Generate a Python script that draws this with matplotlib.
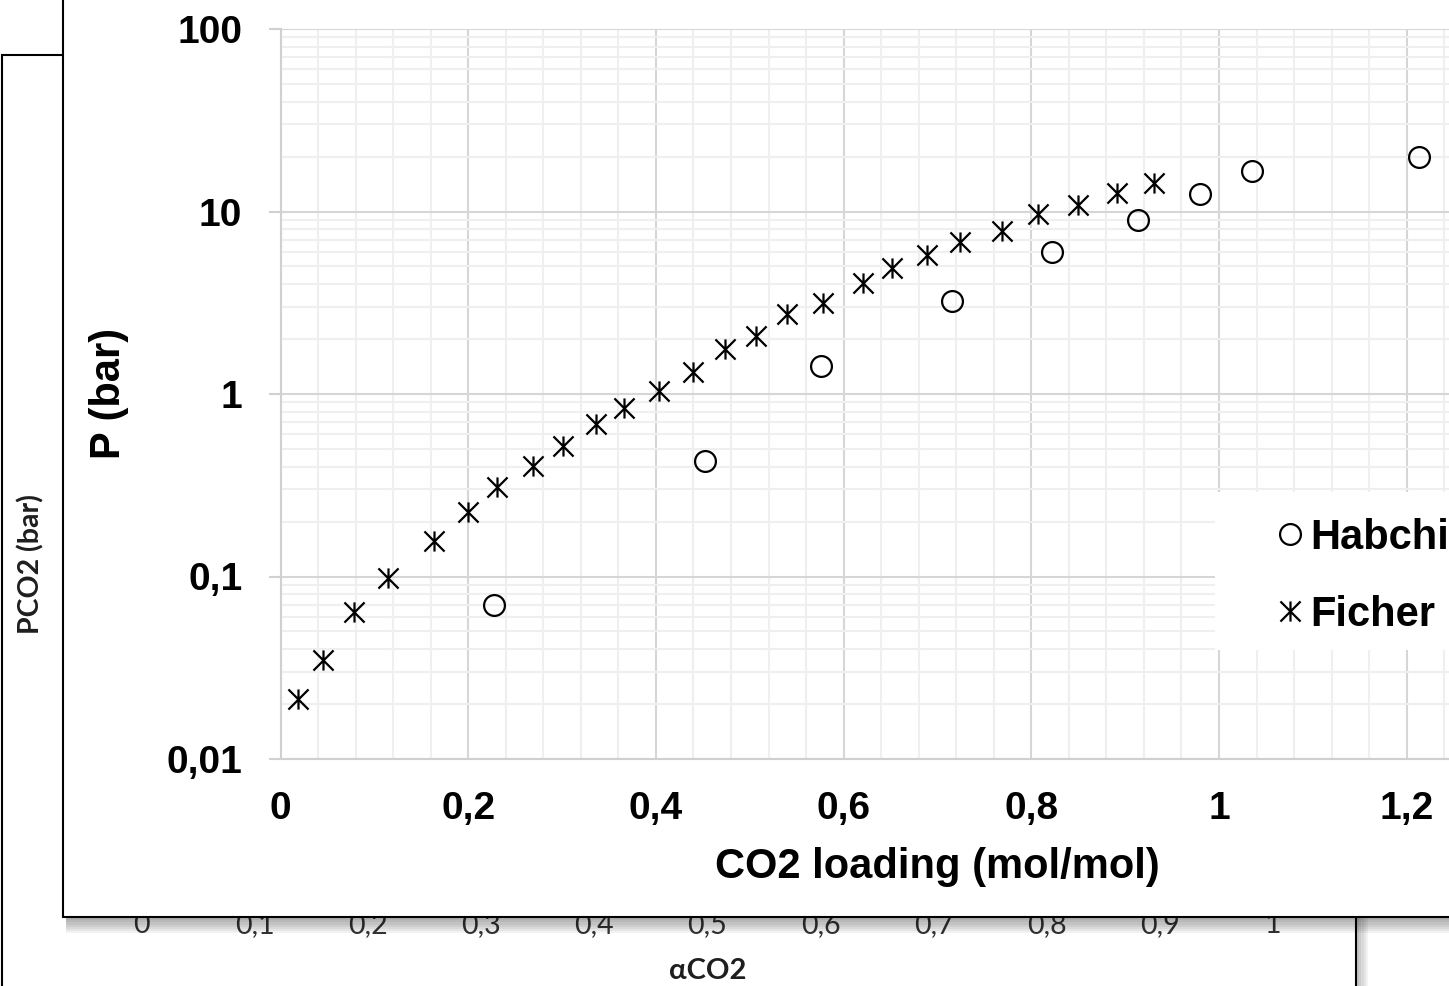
# -*-coding:Utf-8 -*
#######################################################################
# Imports :
from matplotlib import pyplot as plt
from matplotlib.patches import Rectangle
from matplotlib.path import Path
import numpy as np

#######################################################################
# Data read off the picture :

# Ficher series (CO2 loading, P in bar)
ficher_x = [0.019, 0.045, 0.078, 0.115, 0.164, 0.200, 0.231, 0.269,
            0.301, 0.336, 0.366, 0.403, 0.440, 0.474, 0.507, 0.540,
            0.578, 0.621, 0.652, 0.689, 0.724, 0.769, 0.807, 0.850,
            0.891, 0.931]
ficher_p = [0.0212, 0.0349, 0.0641, 0.0977, 0.157, 0.227, 0.308, 0.403,
            0.521, 0.682, 0.835, 1.04, 1.32, 1.76, 2.09, 2.73,
            3.14, 4.07, 4.88, 5.75, 6.78, 7.77, 9.72, 10.9,
            12.6, 14.3]

# Habchi series
habchi_x = [0.228, 0.452, 0.576, 0.716, 0.822, 0.914, 0.980, 1.035, 1.213]
habchi_p = [0.0698, 0.431, 1.43, 3.23, 6.02, 8.98, 12.5, 16.7, 20.0]

# Tick labels (decimal comma)
x_ticks = [0, 0.2, 0.4, 0.6, 0.8, 1.0, 1.2]
x_labels = ["0", "0,2", "0,4", "0,6", "0,8", "1", "1,2"]
y_ticks = [0.01, 0.1, 1, 10, 100]
y_labels = ["0,01", "0,1", "1", "10", "100"]

# Background chart (partly hidden behind the front one)
bg_ticks = [0, 0.1, 0.2, 0.3, 0.4, 0.5, 0.6, 0.7, 0.8, 0.9, 1.0]
bg_labels = ["0", "0,1", "0,2", "0,3", "0,4", "0,5", "0,6", "0,7",
             "0,8", "0,9", "1"]

W, H = 1449, 986


#######################################################################
# Local helpers :

def fx(px: float) -> float:
    """Pixel column -> figure fraction."""
    return px / W


def fy(py: float) -> float:
    """Pixel row (from top) -> figure fraction."""
    return 1 - py / H


# ------------------------------------------------------------------- #
def draw_background(fig) -> None:
    """
    Draws the chart that sits behind : frame, tick labels and titles.
    """

    frame = Rectangle((fx(1.5), fy(1100)), (1356 - 1.5) / W, (1100 - 55) / H,
                      transform=fig.transFigure, facecolor="white",
                      edgecolor="black", lw=1.5, zorder=-2)
    fig.patches.append(frame)

    # soft shadow on the right of the frame
    for k in range(1, 6):
        fig.patches.append(Rectangle((fx(1357), fy(1000)), 2.2 * k / W,
                                     (1000 - 900) / H,
                                     transform=fig.transFigure,
                                     facecolor="black", alpha=0.05,
                                     lw=0, zorder=-1))

    bg_font = ["Lato", "DejaVu Sans"]
    ax_bg = fig.add_axes([fx(141.7), fy(912), (1273 - 141.7) / W,
                          (912 - 60) / H])
    ax_bg.set_zorder(0)
    ax_bg.set_facecolor("none")
    ax_bg.set_frame_on(False)
    ax_bg.set_xlim(0, 1)
    ax_bg.set_xticks(bg_ticks)
    ax_bg.set_xticklabels(bg_labels, family=bg_font, fontsize=20.5,
                          color="#333333")
    ax_bg.set_yticks([])
    ax_bg.tick_params(axis="x", length=0, pad=0)

    ax_bg.set_xlabel("αCO2", family=bg_font, fontsize=21,
                     fontweight="bold", color="#1e1e1e")
    ax_bg.xaxis.set_label_coords(0.5, -0.0545)
    ax_bg.set_ylabel("PCO2 (bar)", family=bg_font, fontsize=20.5,
                     fontweight="bold", color="#1e1e1e")
    ax_bg.yaxis.set_label_coords(-0.0862, 0.408)


# ------------------------------------------------------------------- #
def draw_panel(fig) -> None:
    """
    White panel of the front chart, with black border and drop shadow.
    """

    for k in range(1, 8):
        fig.patches.append(Rectangle((fx(66), fy(918 + 2.2 * k)),
                                     (1500 - 66) / W, 2.2 * k / H,
                                     transform=fig.transFigure,
                                     facecolor="black", alpha=0.05,
                                     lw=0, zorder=0.8))

    panel = Rectangle((fx(63), fy(917)), (1500 - 63) / W, (917 + 50) / H,
                      transform=fig.transFigure, facecolor="white",
                      edgecolor="black", lw=1.5, zorder=1)
    fig.patches.append(panel)


# ------------------------------------------------------------------- #
def main() -> int:
    """
    Main program : builds the figure and saves it in out.png
    """

    fig = plt.figure(figsize=(W / 100, H / 100), dpi=100)
    draw_background(fig)
    draw_panel(fig)

    font = "Liberation Sans"
    ax = fig.add_axes([fx(280.5), fy(759), 1.4 * 938.5 / W, (759 - 29) / H])
    ax.set_zorder(2)
    ax.set_facecolor("none")

    # Markers : open circle and excel like asterisk
    star = Path([(0, -1), (0, 1), (-1, -1), (1, 1), (-1, 1), (1, -1)],
                [Path.MOVETO, Path.LINETO] * 3)

    ax.plot(habchi_x, habchi_p, ls="none", marker="o", ms=15, mew=1.6,
            mfc="none", mec="black", label="Habchi", zorder=3)
    ax.plot(ficher_x, ficher_p, ls="none", marker=star, ms=14.5, mew=1.6,
            mfc="none", mec="black", label="Ficher", zorder=3)

    ax.set_yscale("log")
    ax.set_xlim(0, 1.4)
    ax.set_ylim(0.01, 100)

    ax.set_xticks(x_ticks)
    ax.set_xticklabels(x_labels, family=font, fontsize=28, fontweight="bold")
    ax.set_yticks(y_ticks)
    ax.set_yticklabels(y_labels, family=font, fontsize=28, fontweight="bold")
    ax.set_xticks(np.arange(0, 1.41, 0.04), minor=True)
    ax.set_yticks([m * d for d in y_ticks[:-1] for m in range(2, 10)],
                  minor=True)
    ax.yaxis.set_minor_formatter(plt.NullFormatter())

    ax.tick_params(axis="x", which="both", length=0, pad=23)
    ax.tick_params(axis="y", which="major", length=9, width=1.5,
                   color="#d0d0d0", pad=18.5)
    ax.tick_params(axis="y", which="minor", length=0)

    ax.set_axisbelow(True)
    ax.grid(which="minor", color="#efefef", lw=1.5)
    ax.grid(which="major", color="#d6d6d6", lw=1.5)
    # major line at 1,4 (out of the picture anyway)
    ax.axvline(1.4, color="#d6d6d6", lw=1.5, zorder=0.5)

    for side in ("top", "right"):
        ax.spines[side].set_visible(False)
    for side in ("left", "bottom"):
        ax.spines[side].set_color("#d0d0d0")
        ax.spines[side].set_linewidth(1.5)

    ax.set_xlabel("CO2 loading (mol/mol)", family=font, fontsize=30,
                  fontweight="bold")
    ax.xaxis.set_label_coords(0.5, -0.1205)
    ax.set_ylabel("P (bar)", family=font, fontsize=30, fontweight="bold")
    ax.yaxis.set_label_coords(-0.1153, 0.5014)

    # Legend on a white box
    ax.add_patch(Rectangle((fx(1215), fy(650)), 250 / W, (650 - 492) / H,
                           transform=fig.transFigure, facecolor="white",
                           edgecolor="none", clip_on=False, zorder=4))
    ax.legend(loc="upper left", bbox_to_anchor=(fx(1269), fy(518)),
              bbox_transform=fig.transFigure, frameon=False,
              prop={"family": font, "size": 30, "weight": "bold"},
              borderpad=0, borderaxespad=0, handlelength=1.0,
              handletextpad=0.0, labelspacing=0.89)

    fig.savefig("out.png", dpi=100)
    return (0)


#######################################################################
if __name__ == "__main__":
    main()
